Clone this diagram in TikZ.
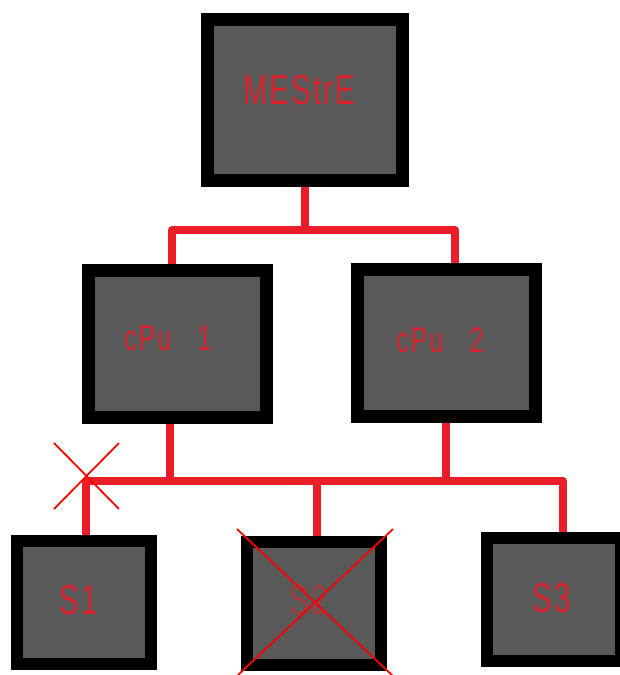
\documentclass[tikz,border=0pt]{standalone}
\usepackage{fontspec}
\newfontfamily\segfont{Liberation Sans}[FakeStretch=0.7,LetterSpace=5,WordSpace=3]
\usetikzlibrary{shapes.misc}

\definecolor{screen}{RGB}{89,89,89}
\definecolor{digitred}{RGB}{218,34,44}
\definecolor{wirered}{RGB}{234,30,40}
\definecolor{markred}{RGB}{255,0,0}

\begin{document}
\begin{tikzpicture}[x=1pt,y=-1pt,
  panel/.style={draw=black,fill=screen,line width=13pt,inner sep=0pt},
  masterbox/.style={panel,minimum width=195pt,minimum height=161pt},
  cpubox/.style={panel,minimum width=178pt,minimum height=147pt},
  slavebox/.style={panel,line width=12pt,minimum width=134pt,
    minimum height=123pt},
  readout/.style={text=digitred,inner sep=0pt,
    font=\segfont\fontsize{42}{46}\selectfont},
  cpureadout/.style={readout,font=\segfont\fontsize{36}{40}\selectfont},
  wire/.style={draw=wirered,line width=8pt,line join=round},
  strike/.style={cross out,draw=markred,line width=1.8pt,inner sep=0pt}
]
\useasboundingbox (0,0) rectangle (620,675);

% Master unit on top, two CPUs below it.
\node[masterbox] (mestre) at (304.5,99.5) {};
\node[readout] (mestreText) at (299,90) {MEStrE};
\node[cpubox] (cpu1) at (177,344) {};
\node[cpureadout] (cpu1Text) at (168,338) {cPu 1};
\node[cpubox] (cpu2) at (446,343) {};
\node[cpureadout] (cpu2Text) at (440,340) {cPu 2};

% Slaves on the lower bus.
\node[slavebox] (s1) at (84,602) {};
\node[readout] (s1Text) at (79,600) {S1};
\node[slavebox] (s2) at (314,603) {};
\node[readout,text=digitred!55!screen] (s2Text) at (309,600) {S2};
\node[slavebox] (s3) at (554,599) {};
\node[readout] (s3Text) at (552,598) {S3};

% Upper bus: master to both CPUs.
\coordinate (fork) at (303,230);
\draw[wire] (mestre.south) -- (mestre.south |- fork);
\draw[wire] ([xshift=-5pt]cpu1.north) |- (fork) -| ([xshift=9pt]cpu2.north);

% Lower bus: CPUs down to the slaves.
\coordinate (bus) at (300,481);
\draw[wire] ([xshift=2pt]s1.north) |- (bus) -| ([xshift=9pt]s3.north);
\draw[wire] ([xshift=-7pt]cpu1.south) -- ([xshift=-7pt]cpu1.south |- bus);
\draw[wire] (cpu2.south) -- (cpu2.south |- bus);
\draw[wire] ([xshift=3pt]s2.north) -- ([xshift=3pt]s2.north |- bus);

% Broken link and dead slave.
\node[strike,minimum width=63pt,minimum height=64pt] (cut) at (86.5,476) {};
\node[strike,minimum width=154pt,minimum height=145pt] (s2Dead) at (315,602.5) {};
\end{tikzpicture}
\end{document}
